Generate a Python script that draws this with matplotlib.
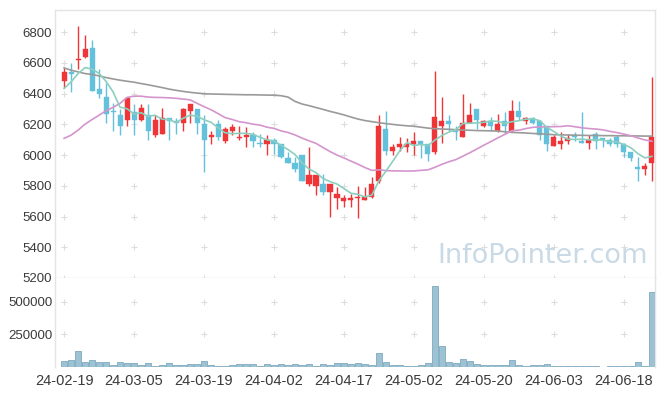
import numpy as np
import matplotlib
matplotlib.use("Agg")
import matplotlib.pyplot as plt

dates = ["2024-02-19", "2024-02-20", "2024-02-21", "2024-02-22", "2024-02-23",
         "2024-02-26", "2024-02-27", "2024-02-28", "2024-02-29",
         "2024-03-04", "2024-03-05", "2024-03-06", "2024-03-07", "2024-03-08",
         "2024-03-11", "2024-03-12", "2024-03-13", "2024-03-14", "2024-03-15",
         "2024-03-18", "2024-03-19", "2024-03-20", "2024-03-21", "2024-03-22",
         "2024-03-25", "2024-03-26", "2024-03-27", "2024-03-28", "2024-03-29",
         "2024-04-01", "2024-04-02", "2024-04-03", "2024-04-04", "2024-04-05",
         "2024-04-08", "2024-04-09", "2024-04-11", "2024-04-12",
         "2024-04-15", "2024-04-16", "2024-04-17", "2024-04-18", "2024-04-19",
         "2024-04-22", "2024-04-23", "2024-04-24", "2024-04-25", "2024-04-26",
         "2024-04-29", "2024-04-30", "2024-05-02", "2024-05-03",
         "2024-05-07", "2024-05-08", "2024-05-09", "2024-05-10",
         "2024-05-13", "2024-05-14", "2024-05-16", "2024-05-17",
         "2024-05-20", "2024-05-21", "2024-05-22", "2024-05-23", "2024-05-24",
         "2024-05-27", "2024-05-28", "2024-05-29", "2024-05-30", "2024-05-31",
         "2024-06-03", "2024-06-04", "2024-06-05", "2024-06-07",
         "2024-06-10", "2024-06-11", "2024-06-12", "2024-06-13", "2024-06-14",
         "2024-06-17", "2024-06-18", "2024-06-19", "2024-06-20", "2024-06-21",
         "2024-06-24"]

opens = [6480, 6540, 6620, 6640, 6700, 6430, 6380, 6290, 6260, 6230,
         6280, 6230, 6260, 6130, 6140, 6240, 6220, 6210, 6290, 6300,
         6200, 6120, 6200, 6090, 6160, 6110, 6120, 6130, 6080, 6070,
         6100, 6070, 5980, 5950, 6000, 5810, 5800, 5810, 5760, 5720,
         5700, 5710, 5720, 5710, 5730, 5830, 6170, 6030, 6050, 6050,
         6070, 6090, 6070, 6020, 6190, 6220, 6160, 6120, 6210, 6300,
         6190, 6220, 6160, 6220, 6160, 6290, 6220, 6240, 6220, 6190,
         6060, 6070, 6090, 6130, 6090, 6080, 6140, 6110, 6100, 6120,
         6070, 6020, 5920, 5910, 5950]
highs = [6570, 6600, 6840, 6780, 6750, 6560, 6470, 6340, 6300, 6380,
         6330, 6330, 6330, 6260, 6310, 6240, 6240, 6310, 6330, 6300,
         6260, 6160, 6230, 6180, 6200, 6190, 6180, 6150, 6140, 6130,
         6110, 6070, 6020, 5990, 6000, 6050, 5870, 5880, 5810, 5790,
         5740, 5750, 5800, 5790, 5860, 6260, 6290, 6070, 6120, 6110,
         6150, 6090, 6070, 6550, 6380, 6260, 6190, 6400, 6340, 6300,
         6230, 6250, 6270, 6280, 6360, 6350, 6250, 6250, 6220, 6190,
         6130, 6150, 6140, 6150, 6280, 6130, 6150, 6110, 6110, 6130,
         6080, 6020, 5990, 5950, 6510]
lows = [6440, 6410, 6560, 6630, 6420, 6370, 6210, 6160, 6130, 6190,
        6130, 6220, 6100, 6120, 6140, 6100, 6140, 6160, 6210, 6140,
        5890, 6070, 6100, 6080, 6130, 6100, 6050, 6050, 6050, 6000,
        6010, 5980, 5950, 5890, 5830, 5800, 5740, 5740, 5600, 5650,
        5660, 5660, 5590, 5710, 5720, 5820, 6000, 6000, 6030, 6020,
        6000, 5980, 5960, 6010, 6080, 6160, 6100, 6120, 6210, 6170,
        6180, 6160, 6150, 6140, 6160, 6230, 6200, 6200, 6100, 6030,
        6060, 6040, 6070, 6090, 6080, 6040, 6040, 6050, 6060, 6050,
        5990, 5960, 5830, 5870, 5830]
closes = [6540, 6530, 6620, 6690, 6420, 6400, 6270, 6280, 6190, 6370,
          6230, 6310, 6160, 6230, 6240, 6220, 6210, 6300, 6330, 6210,
          6100, 6130, 6120, 6170, 6180, 6110, 6130, 6090, 6070, 6100,
          6070, 5990, 5950, 5910, 5830, 5870, 5870, 5760, 5810, 5750,
          5720, 5720, 5720, 5730, 5810, 6190, 6030, 6050, 6070, 6070,
          6090, 6070, 6010, 6250, 6220, 6200, 6150, 6210, 6260, 6230,
          6220, 6190, 6200, 6190, 6290, 6250, 6240, 6210, 6130, 6070,
          6120, 6090, 6110, 6120, 6080, 6100, 6090, 6100, 6070, 6070,
          6020, 5980, 5910, 5930, 6120]
volumes = [48000, 56000, 125000, 41000, 56000, 41000, 41000, 18000, 41000, 33000,
           33000, 18000, 33000, 10000, 18000, 33000, 18000, 18000, 26000, 26000,
           48000, 18000, 10000, 10000, 18000, 26000, 26000, 26000, 10000, 26000,
           18000, 26000, 18000, 26000, 18000, 26000, 10000, 26000, 18000, 33000,
           33000, 26000, 33000, 26000, 18000, 110000, 41000, 18000, 18000, 10000,
           10000, 18000, 33000, 620000, 164000, 41000, 33000, 64000, 48000, 26000,
           18000, 18000, 18000, 18000, 56000, 18000, 10000, 18000, 18000, 26000,
           6000, 6000, 6000, 6000, 6000, 6000, 6000, 3000, 6000, 6000,
           6000, 6000, 41000, 6000, 575000]

ma5_head = [6434, 6477, 6531, 6570]
ma20_head = [6109, 6130, 6163, 6202, 6232, 6260, 6289, 6311, 6337, 6376,
             6384, 6384, 6378, 6376, 6375, 6373, 6370, 6365, 6360]
ma_long = [6568, 6553, 6542, 6531, 6525, 6516, 6505, 6496, 6488, 6481,
           6475, 6466, 6458, 6449, 6440, 6430, 6422, 6415, 6409, 6404,
           6400, 6398, 6397, 6396, 6395, 6394, 6393, 6393, 6392, 6391,
           6390, 6387, 6378, 6350, 6333, 6322, 6310, 6298, 6285, 6274,
           6262, 6248, 6235, 6225, 6218, 6211, 6205, 6200, 6195, 6191,
           6188, 6182, 6176, 6172, 6170, 6168, 6166, 6163, 6162, 6160,
           6159, 6158, 6157, 6152, 6148, 6146, 6144, 6141, 6139, 6136,
           6133, 6132, 6131, 6130, 6129, 6128, 6128, 6127, 6127, 6126,
           6126, 6125, 6125, 6124, 6124]

price_ticks = [5200, 5400, 5600, 5800, 6000, 6200, 6400, 6600, 6800]
vol_ticks = [250000, 500000]
date_tick_idx = [0, 10, 20, 30, 40, 50, 60, 70, 80]


def rolling(vals, n, head):
    out = list(head)
    for i in range(len(head), len(vals)):
        out.append(float(np.mean(vals[i - n + 1:i + 1])))
    return np.array(out)


ma5 = rolling(closes, 5, ma5_head)
ma20 = rolling(closes, 20, ma20_head)

UP = '#ee3538'
DOWN = '#64c1dc'
FRAME = '#e4e4e4'
TXT = '#3a3a3a'

W, H = 665, 396
fig = plt.figure(figsize=(W / 100, H / 100), dpi=100)
L, R = 55, 655
ax = fig.add_axes([L / W, 1 - 278 / H, (R - L) / W, (278 - 10) / H])
axv = fig.add_axes([L / W, 1 - 367 / H, (R - L) / W, (367 - 278) / H], sharex=ax)

x = np.arange(len(dates))
o = np.array(opens, float)
c = np.array(closes, float)
hi = np.array(highs, float)
lo = np.array(lows, float)
col = [UP if cc >= oo else DOWN for oo, cc in zip(o, c)]

# watermark
ax.text(0.988, 0.035, "InfoPointer.com", transform=ax.transAxes, ha='right',
        va='bottom', fontsize=19.5, color='#c9dae6', family='DejaVu Sans', zorder=0)

# grid crosses
for yy in price_ticks:
    ax.scatter(date_tick_idx, [yy] * len(date_tick_idx), marker='+', s=20,
               color='#dddddd', linewidths=0.8, zorder=1)
for yy in vol_ticks:
    axv.scatter(date_tick_idx, [yy] * len(date_tick_idx), marker='+', s=20,
                color='#dddddd', linewidths=0.8, zorder=1)

ax.vlines(x, lo, hi, colors=col, linewidth=1.0, zorder=3)
body = np.maximum(np.abs(c - o), 9)
ax.bar(x, body, bottom=np.minimum(o, c), width=0.72, color=col, edgecolor=col,
       linewidth=0.3, zorder=4)

ax.plot(x, ma_long, color='#9a9a9a', lw=1.2, zorder=5)
ax.plot(x, ma20, color='#d495cd', lw=1.2, zorder=5)
ax.plot(x, ma5, color='#8ccfbf', lw=1.2, zorder=5)

axv.bar(x, volumes, width=0.85, color='#9cc2d3', edgecolor='#7ea9bd',
        linewidth=0.6, zorder=3)

ax.set_xlim(-1.3, 84.45)
ax.set_ylim(5200, 6945)
axv.set_ylim(0, 680000)

ax.set_yticks(price_ticks)
ax.set_yticklabels([str(t) for t in price_ticks])
axv.set_yticks(vol_ticks)
axv.set_yticklabels([str(t) for t in vol_ticks])
axv.set_xticks(date_tick_idx)
axv.set_xticklabels([dates[i][2:] for i in date_tick_idx])
ax.tick_params(axis='x', which='both', bottom=False, labelbottom=False)

for a in (ax, axv):
    a.tick_params(axis='y', length=0, pad=2, labelsize=9.5, labelcolor=TXT)
    a.tick_params(axis='x', length=0, pad=5, labelsize=10.5, labelcolor=TXT)
    for s in a.spines.values():
        s.set_color(FRAME)
        s.set_linewidth(1.0)
    for lab in a.get_yticklabels() + a.get_xticklabels():
        lab.set_family('Liberation Sans')
axv.spines['top'].set_visible(False)
axv.spines['bottom'].set_visible(False)

fig.savefig('out.png', dpi=100, facecolor='white')
